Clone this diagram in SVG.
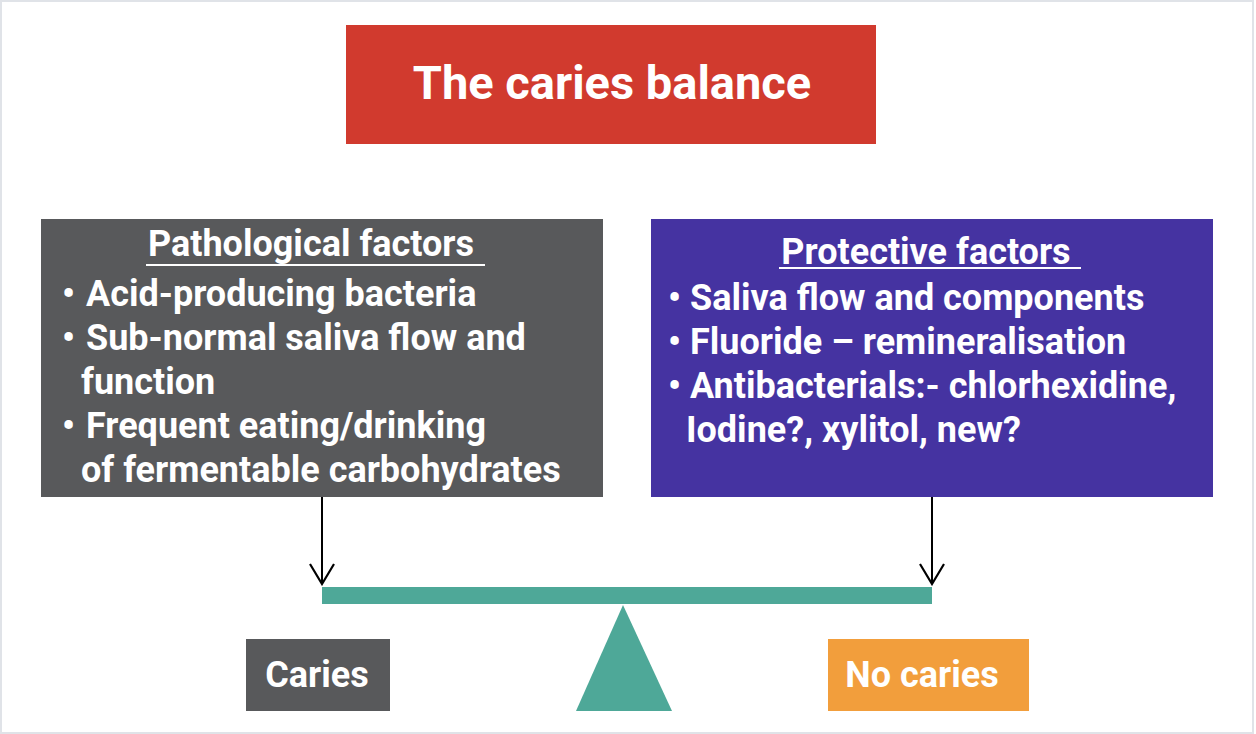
<svg xmlns="http://www.w3.org/2000/svg" width="1256" height="734" viewBox="0 0 1256 734">
<defs>
<style>
.t{font-family:Roboto,"Liberation Sans",sans-serif;font-weight:bold;fill:#fff;font-size:36px}
</style>
<marker id="ah" markerWidth="24" markerHeight="28" refX="20" refY="0" orient="auto" markerUnits="userSpaceOnUse" viewBox="-2 -14 24 28">
<path d="M0,-12 L20,0 L0,12" fill="none" stroke="#000" stroke-width="2.2"/>
</marker>
</defs>
<rect x="0" y="0" width="1256" height="734" fill="#fff"/>
<rect x="1" y="1" width="1252" height="732" fill="none" stroke="#e0e3e8" stroke-width="2"/>
<g id="title">
<rect x="346" y="25" width="530" height="119" fill="#d13a2e"/>
<text class="t" x="612" y="99" text-anchor="middle" style="font-size:47px">The caries balance</text>
</g>
<g id="pathological">
<rect x="41" y="219" width="562" height="278" fill="#58595b"/>
<text class="t" x="311" y="256" text-anchor="middle">Pathological factors</text>
<line x1="146" y1="265" x2="485" y2="265" stroke="#fff" stroke-width="2"/>
<text class="t" x="62" y="306">•</text><text class="t" x="86" y="306">Acid-producing bacteria</text>
<text class="t" x="62" y="350">•</text><text class="t" x="86" y="350">Sub-normal saliva flow and</text>
<text class="t" x="81" y="394">function</text>
<text class="t" x="62" y="438">•</text><text class="t" x="86" y="438">Frequent eating/drinking</text>
<text class="t" x="81" y="482">of fermentable carbohydrates</text>
</g>
<g id="protective">
<rect x="651" y="219" width="562" height="278" fill="#4533a1"/>
<text class="t" x="926" y="264" text-anchor="middle">Protective factors</text>
<line x1="779" y1="268" x2="1081" y2="268" stroke="#fff" stroke-width="2"/>
<text class="t" x="668" y="310">•</text><text class="t" x="690" y="310">Saliva flow and components</text>
<text class="t" x="668" y="354">•</text><text class="t" x="690" y="354">Fluoride – remineralisation</text>
<text class="t" x="668" y="398">•</text><text class="t" x="690" y="398">Antibacterials:- chlorhexidine,</text>
<text class="t" x="686" y="442">Iodine?, xylitol, new?</text>
</g>
<g id="balance">
<rect x="322" y="587" width="610" height="17" fill="#4ea898"/>
<polygon points="623,605 672,711 576,711" fill="#4ea898"/>
</g>
<g id="caries">
<rect x="246" y="639" width="144" height="72" fill="#58595b"/>
<text class="t" x="317" y="687" text-anchor="middle">Caries</text>
</g>
<g id="nocaries">
<rect x="828" y="639" width="201" height="72" fill="#f29e3c"/>
<text class="t" x="922" y="687" text-anchor="middle">No caries</text>
</g>
<g id="connectors" fill="none" stroke="#000" stroke-width="2">
<line x1="322" y1="497" x2="322" y2="584" marker-end="url(#ah)"/>
<line x1="932" y1="497" x2="932" y2="584" marker-end="url(#ah)"/>
</g>
</svg>
